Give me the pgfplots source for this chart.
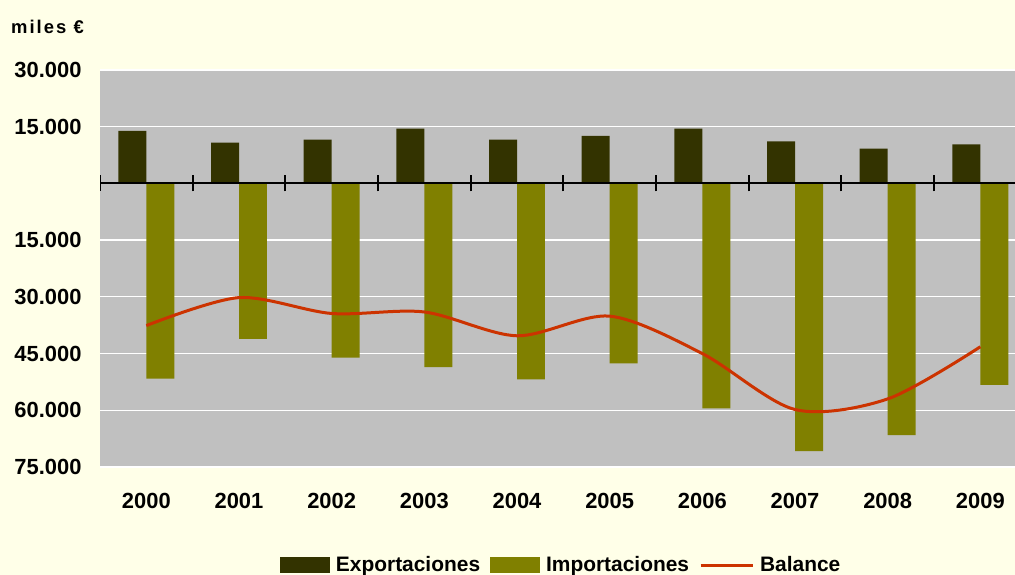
\documentclass[border=0pt]{standalone}
\usepackage{pgfplots}
\pgfplotsset{compat=1.18}
\usepackage{fontspec}
\setmainfont{Liberation Sans}

\definecolor{bgc}{HTML}{FFFFE8}
\definecolor{plotbg}{HTML}{C0C0C0}
\definecolor{expc}{HTML}{333300}
\definecolor{impc}{HTML}{808000}
\definecolor{balc}{HTML}{CC3300}

\begin{document}
\begin{tikzpicture}[x=1bp,y=1bp]
\fill[bgc] (0,0) rectangle (1015,575);
\useasboundingbox (0,0) rectangle (1015,575);
\node[anchor=west, inner sep=0pt, font=\fontsize{18.5}{22}\selectfont\bfseries\addfontfeature{LetterSpace=11}] at (11,548) {miles €};
\begin{axis}[
  at={(100bp,108bp)}, anchor=south west,
  width=915bp, height=397bp, scale only axis,
  xmin=0, xmax=9.874,
  ymin=-75000, ymax=30000,
  scaled y ticks=false,
  axis line style={draw=none},
  axis background/.style={fill=plotbg},
  major tick length=0pt,
  ytick={-75000,-60000,-45000,-30000,-15000,0,15000,30000},
  yticklabels={75.000,60.000,45.000,30.000,15.000,,15.000,30.000},
  ymajorgrids, grid style={white, line width=1.3bp},
  xtick={0.5,1.5,2.5,3.5,4.5,5.5,6.5,7.5,8.5,9.5},
  xticklabels={2000,2001,2002,2003,2004,2005,2006,2007,2008,2009},
  ticklabel style={font=\fontsize{22}{26}\selectfont\bfseries},
  yticklabel style={xshift=-15bp},
  xticklabel style={yshift=-23bp},
  legend columns=3,
  legend style={at={(0.504,-0.247)}, anchor=center, draw=none, fill=none,
    font=\fontsize{21}{25}\selectfont\bfseries,
    /tikz/every odd column/.append style={column sep=4bp},
    /tikz/every even column/.append style={column sep=8bp}},
]
% exportaciones (miles de euros)
\addplot[fill=expc, draw=none, ybar, bar width=0.302, bar shift=-0.151,
  legend image code/.code={\fill[expc] (0bp,-8bp) rectangle (50bp,8bp);}]
  coordinates {(0.5,13900) (1.5,10800) (2.5,11600) (3.5,14500) (4.5,11600)
               (5.5,12600) (6.5,14500) (7.5,11100) (8.5,9200) (9.5,10300)};
\addlegendentry{Exportaciones}
% importaciones
\addplot[fill=impc, draw=none, ybar, bar width=0.302, bar shift=0.151,
  legend image code/.code={\fill[impc] (0bp,-8bp) rectangle (50bp,8bp);}]
  coordinates {(0.5,-51600) (1.5,-41100) (2.5,-46100) (3.5,-48600) (4.5,-51800)
               (5.5,-47600) (6.5,-59500) (7.5,-70800) (8.5,-66600) (9.5,-53300)};
\addlegendentry{Importaciones}
% balance
\addplot[balc, line width=3bp, smooth, tension=0.5, mark=none,
  legend image code/.code={\draw[balc, line width=3bp] (0bp,0bp) -- (52bp,0bp);}]
  coordinates {(0.5,-37600) (1.5,-30200) (2.5,-34400) (3.5,-34000) (4.5,-40300)
               (5.5,-35100) (6.5,-45000) (7.5,-59800) (8.5,-57000) (9.5,-43200)};
\addlegendentry{Balance}
% eje en cero
\draw[black, line width=2bp] (axis cs:0,0) -- (axis cs:9.874,0);
\pgfplotsinvokeforeach{0,1,2,3,4,5,6,7,8,9}{
  \draw[black, line width=1.8bp] ([yshift=-8bp]axis cs:#1,0) -- ([yshift=8bp]axis cs:#1,0);
}
\end{axis}
\end{tikzpicture}
\end{document}
